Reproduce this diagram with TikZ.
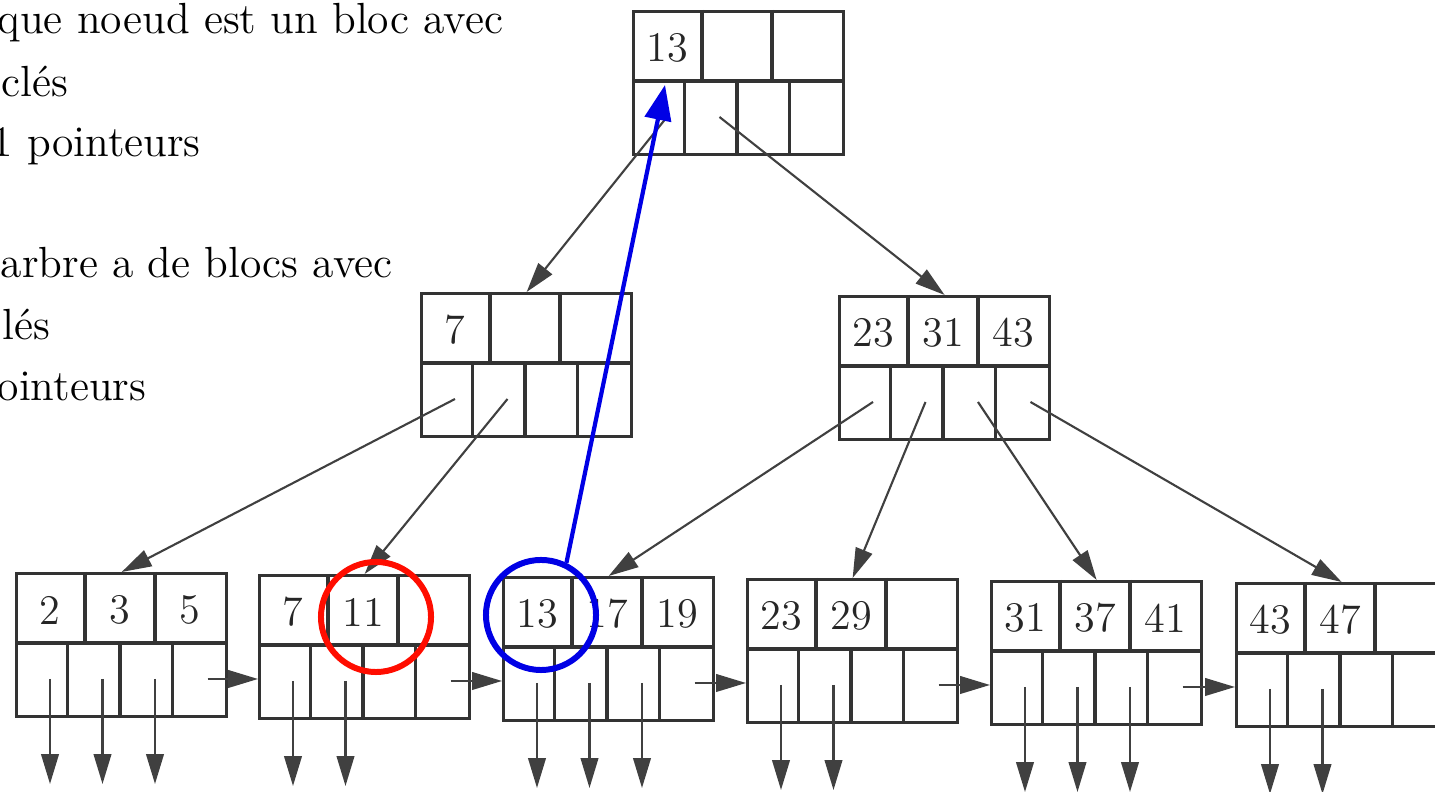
\documentclass[tikz,border=0pt]{standalone}
\usetikzlibrary{arrows.meta}

\tikzset{
  trait/.style={draw=black!80, line width=0.9pt},
  cle/.style={font=\fontsize{12}{14}\selectfont, text=black!85, inner sep=0pt},
  lien/.style={draw=black!75, line width=0.6pt, -{Triangle[length=8.5pt,width=5pt]}},
  texte/.style={anchor=base west, font=\fontsize{12.4}{15}\selectfont, inner sep=0pt},
  entoure/.style={circle, line width=1.7pt, minimum size=1.1cm, inner sep=0pt},
}

% un bloc : nom, x, y (coin haut gauche), trois cles
\newcommand{\bloc}[6]{%
  \begin{scope}[shift={(#2,#3)}]
    \node[trait, anchor=north west, minimum width=2.1cm, minimum height=1.43cm, inner sep=0pt] (#1) at (0,0) {};
    \draw[trait] (0,71) -- (210,71);
    \draw[trait] (70,0) -- (70,71) (140,0) -- (140,71);
    \draw[trait] (52.5,71) -- (52.5,143) (105,71) -- (105,143) (157.5,71) -- (157.5,143);
    \node[cle] (#1-k1) at (35,38) {#4};
    \node[cle] (#1-k2) at (105,38) {#5};
    \node[cle] (#1-k3) at (175,38) {#6};
    \foreach \i in {1,...,4} {
      \coordinate (#1-p\i) at ({52.5*(\i-1)+35},107);
      \coordinate (#1-h\i) at ({52.5*(\i-1)+33},75);
      \coordinate (#1-d\i) at ({52.5*(\i-1)+35},212);
    }
  \end{scope}}

\begin{document}
\begin{tikzpicture}[x=0.01cm, y=-0.01cm]
\useasboundingbox (0,0) rectangle (1435,792);
\clip (0,0) rectangle (1435,792);

% texte a gauche
\node[texte] (t1) at (-3,34) {que noeud est un bloc avec};
\node[texte] (t2) at (1,97) {clés};
\node[texte] (t3) at (-9,157) {1 pointeurs};
\node[texte] (t4) at (0,278) {arbre a de blocs avec};
\node[texte] (t5) at (2,340) {lés};
\node[texte] (t6) at (-3,401) {ointeurs};

% racine et noeuds internes
\bloc{racine}{632}{10}{13}{}{}
\bloc{int1}{420}{292}{7}{}{}
\bloc{int2}{838}{295}{23}{31}{43}

% feuilles
\bloc{f1}{15}{572}{2}{3}{5}
\bloc{f2}{258}{574}{7}{11}{}
\bloc{f3}{502}{576}{13}{17}{19}
\bloc{f4}{746}{578}{23}{29}{}
\bloc{f5}{990}{580}{31}{37}{41}
\bloc{f6}{1235}{582}{43}{47}{}

% liens entre niveaux
\draw[lien] (racine-p1) -- (int1.north);
\draw[lien] (racine-p2) -- (int2.north);
\draw[lien] (int1-p1) -- (f1.north);
\draw[lien] (int1-p2) -- (f2.north);
\draw[lien] (int2-p1) -- (f3.north);
\draw[lien] (int2-p2) -- (f4.north);
\draw[lien] (int2-p3) -- (f5.north);
\draw[lien] (int2-p4) -- (f6.north);

% pointeurs vers les enregistrements
\foreach \f/\n in {f1/3,f2/2,f3/3,f4/2,f5/3,f6/2}
  \foreach \i in {1,...,\n}
    \draw[lien] (\f-p\i) -- (\f-d\i);

% chainage des feuilles
\foreach \a/\b in {f1/f2,f2/f3,f3/f4,f4/f5,f5/f6}
  \draw[lien] (\a-p4) -- (\a-p4 -| \b.west);

% annotations
\node[entoure, draw=red!90!orange] (rouge) at (376,617) {};
\node[entoure, draw=blue!90!black] (bleu) at (541,615) {};
\draw[blue!90!black, line width=1.2pt, -{Triangle[length=10pt,width=7.5pt]}] (bleu.64) -- (racine-h1);
\end{tikzpicture}
\end{document}
